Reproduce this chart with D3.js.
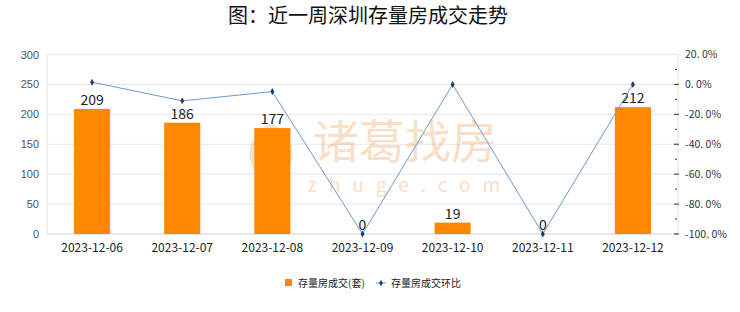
<!DOCTYPE html>
<html>
<head>
<meta charset="utf-8">
<script src="https://cdn.jsdelivr.net/npm/d3@7"></script>
<style>
  body { margin: 0; background: #fff; }
  svg { display: block; font-family: "Noto Sans CJK SC", "Noto Sans", sans-serif; }
</style>
</head>
<body>
<script>
var dates = ['2023-12-06', '2023-12-07', '2023-12-08', '2023-12-09', '2023-12-10', '2023-12-11', '2023-12-12'];
var deals = [209, 186, 177, 0, 19, 0, 212];
var ratio = [1.5, -11.0, -4.8, -100, 0, -100, 0];
var leftTicks = [0, 50, 100, 150, 200, 250, 300];
var rightTicks = [20, 0, -20, -40, -60, -80, -100];

var W = 740, H = 312;
var m = {left: 47, right: 678, top: 54.5, bottom: 234};

var svg = d3.select('body')
  .append('svg')
  .attr('width', W)
  .attr('height', H);

var x = d3.scaleBand().domain(dates).range([m.left, m.right]);
var y = d3.scaleLinear().domain([0, 300]).range([m.bottom, m.top]);
var y2 = d3.scaleLinear().domain([-100, 20]).range([m.bottom, m.top]);

// title
svg.append('text')
  .attr('x', 368)
  .attr('y', 23)
  .attr('text-anchor', 'middle')
  .style('font-size', '20px')
  .style('font-weight', 'normal')
  .style('fill', '#111')
  .text('图：近一周深圳存量房成交走势');

// grid
svg.append('g')
  .selectAll('line')
  .data(leftTicks)
  .enter()
  .append('line')
  .attr('x1', m.left)
  .attr('x2', m.right)
  .attr('y1', d => y(d))
  .attr('y2', d => y(d))
  .style('stroke', d => d === 0 ? '#d0d0d0' : '#e6e6e6');

svg.append('line')
  .attr('x1', m.left).attr('x2', m.left)
  .attr('y1', m.top).attr('y2', m.bottom)
  .style('stroke', '#e2e2e2');
svg.append('line')
  .attr('x1', m.right).attr('x2', m.right)
  .attr('y1', m.top).attr('y2', m.bottom)
  .style('stroke', '#e2e2e2');

// watermark
var wm = svg.append('g').style('opacity', 0.34);
wm.append('path')
  .attr('d', 'M271,123 C250,134 244,156 255,171 C261,181 270,185 271,188 C272,185 281,181 287,171 C298,156 292,134 271,123 Z')
  .style('fill', '#f0a060');
wm.append('text')
  .attr('x', 405).attr('y', 158)
  .attr('text-anchor', 'middle')
  .style('font-size', '46px')
  .style('fill', '#f0a060')
  .text('诸葛找房');
wm.append('text')
  .attr('x', 410).attr('y', 192)
  .attr('text-anchor', 'middle')
  .style('font-size', '19px')
  .style('letter-spacing', '12px')
  .style('fill', '#f0a060')
  .text('zhuge.com');

// left axis
var yAxis = d3.axisLeft(y).tickValues(leftTicks).tickSize(0).tickPadding(8);
var gy = svg.append('g').attr('transform', 'translate(' + m.left + ',0)').call(yAxis);
gy.select('.domain').remove();
gy.selectAll('text').style('font-size', '11px').style('fill', '#555').style('font-family', 'Arial, "Liberation Sans", sans-serif');

// right axis
var y2Axis = d3.axisRight(y2).tickValues(rightTicks).tickSize(0).tickPadding(7)
  .tickFormat(d => d.toFixed(1).replace('.', '. ') + '%');
var gy2 = svg.append('g').attr('transform', 'translate(' + m.right + ',0)').call(y2Axis);
gy2.select('.domain').remove();
gy2.selectAll('text').style('font-size', '10.5px').style('fill', '#333').style('font-family', '"Noto Sans CJK JP", sans-serif');

var minor = d3.range(-100, 21, 10);
svg.append('g')
  .selectAll('line')
  .data(minor)
  .enter()
  .append('line')
  .attr('x1', d => d % 20 === 0 ? m.right - 4 : m.right - 3)
  .attr('x2', d => d % 20 === 0 ? m.right + 1 : m.right - 1)
  .attr('y1', d => y2(d))
  .attr('y2', d => y2(d))
  .style('stroke', '#333')
  .style('display', d => d === 20 ? 'none' : null);

// x axis labels
var xAxis = d3.axisBottom(x).tickSize(0).tickPadding(9);
var gx = svg.append('g').attr('transform', 'translate(0,' + m.bottom + ')').call(xAxis);
gx.select('.domain').remove();
gx.selectAll('text').style('font-size', '12px').style('fill', '#222').style('font-family', '"Noto Sans CJK JP", sans-serif');

// bars
var bw = x.bandwidth() * 0.4;
svg.append('g')
  .selectAll('rect')
  .data(deals)
  .enter()
  .append('rect')
  .attr('x', (d, i) => x(dates[i]) + (x.bandwidth() - bw) / 2)
  .attr('y', d => y(d))
  .attr('width', bw)
  .attr('height', d => y(0) - y(d))
  .style('fill', '#ff8800');

svg.append('g')
  .selectAll('text')
  .data(deals)
  .enter()
  .append('text')
  .attr('x', (d, i) => x(dates[i]) + x.bandwidth() / 2)
  .attr('y', d => y(d) - 4)
  .attr('text-anchor', 'middle')
  .style('font-size', '14px')
  .style('fill', '#222')
  .text(d => d);

// ratio line
var line = d3.line()
  .x((d, i) => x(dates[i]) + x.bandwidth() / 2)
  .y(d => y2(d));

svg.append('path')
  .datum(ratio)
  .attr('d', line)
  .style('fill', 'none')
  .style('stroke', '#6b9bd0')
  .style('stroke-width', 1);

svg.append('g')
  .selectAll('path')
  .data(ratio)
  .enter()
  .append('path')
  .attr('d', d3.symbol().type(d3.symbolDiamond).size(14))
  .attr('transform', (d, i) => 'translate(' + (x(dates[i]) + x.bandwidth() / 2) + ',' + y2(d) + ')')
  .style('fill', '#1f3f66');

// legend
var lg = svg.append('g').attr('transform', 'translate(0,283)');
lg.append('rect')
  .attr('x', 285).attr('y', -4)
  .attr('width', 7).attr('height', 7)
  .style('fill', '#ff8800');
lg.append('text')
  .attr('x', 298).attr('y', 4)
  .style('font-size', '10px')
  .style('fill', '#222')
  .text('存量房成交(套)');
lg.append('line')
  .attr('x1', 376).attr('x2', 386)
  .attr('y1', 0).attr('y2', 0)
  .style('stroke', '#6b9bd0');
lg.append('path')
  .attr('d', d3.symbol().type(d3.symbolDiamond).size(12))
  .attr('transform', 'translate(381,0)')
  .style('fill', '#1f3f66');
lg.append('text')
  .attr('x', 391).attr('y', 4)
  .style('font-size', '10px')
  .style('fill', '#222')
  .text('存量房成交环比');
</script>
</body>
</html>
